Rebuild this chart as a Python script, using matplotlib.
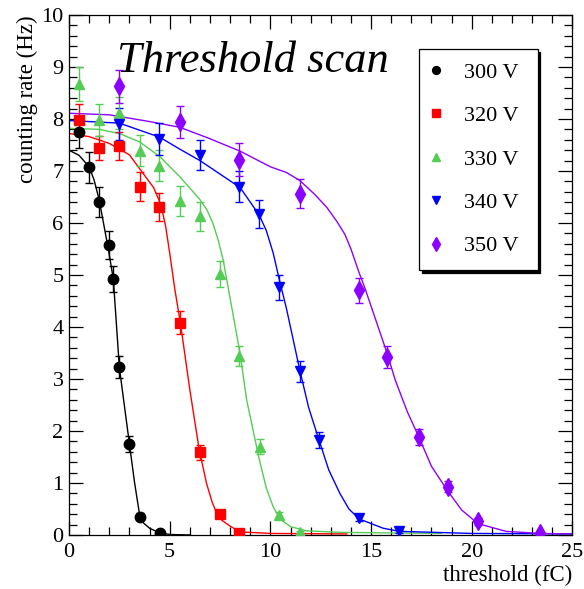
import matplotlib
matplotlib.use("Agg")
import matplotlib.pyplot as plt
from matplotlib.ticker import MultipleLocator

plt.rcParams['font.family'] = ['Liberation Serif', 'DejaVu Serif']

# measured points: threshold (fC), counting rate (Hz), error (Hz)
x300 = [0.5, 1.0, 1.5, 2.0, 2.2, 2.5, 3.0, 3.5, 4.5]
y300 = [7.75, 7.07, 6.41, 5.58, 4.92, 3.23, 1.75, 0.35, 0.03]
e300 = [0.31, 0.30, 0.29, 0.27, 0.25, 0.21, 0.15, 0.07, 0.02]

x320 = [0.5, 1.5, 2.5, 3.5, 4.45, 5.5, 6.5, 7.5, 8.45]
y320 = [7.98, 7.45, 7.48, 6.70, 6.31, 4.08, 1.59, 0.40, 0.04]
e320 = [0.31, 0.23, 0.27, 0.28, 0.27, 0.22, 0.14, 0.07, 0.02]

x330 = [0.5, 1.5, 2.5, 3.5, 4.45, 5.5, 6.5, 7.5, 8.45, 9.5, 10.45, 11.45]
y330 = [8.67, 7.98, 8.12, 7.39, 7.10, 6.42, 6.13, 5.02, 3.44, 1.70, 0.38, 0.05]
e330 = [0.32, 0.31, 0.31, 0.30, 0.30, 0.29, 0.28, 0.25, 0.20, 0.14, 0.07, 0.02]

x340 = [2.5, 4.45, 6.5, 8.45, 9.45, 10.45, 11.45, 12.4, 14.4, 16.4]
y340 = [7.90, 7.62, 7.31, 6.70, 6.18, 4.76, 3.15, 1.83, 0.32, 0.07]
e340 = [0.31, 0.31, 0.29, 0.29, 0.27, 0.24, 0.20, 0.15, 0.06, 0.03]

x350 = [2.5, 5.5, 8.45, 11.45, 14.4, 15.8, 17.4, 18.8, 20.3, 23.4]
y350 = [8.63, 7.94, 7.22, 6.56, 4.71, 3.43, 1.88, 0.93, 0.26, 0.04]
e350 = [0.32, 0.31, 0.31, 0.28, 0.24, 0.21, 0.15, 0.10, 0.06, 0.02]

# fit curves
fx300 = [0, 0.5, 1.0, 1.25, 1.5, 1.95, 2.2, 2.5, 3.0, 3.25, 3.5, 3.7, 4.0, 4.5, 5.0, 6.0]
fy300 = [7.40, 7.30, 7.08, 6.82, 6.44, 5.50, 4.92, 3.22, 1.75, 1.02, 0.40, 0.23, 0.13, 0.04, 0.01, 0.0]

fx320 = [0, 1, 2, 3, 3.8, 4.2, 4.47, 4.65, 4.8, 5.0, 5.26, 5.53, 6.0, 6.47, 6.83,
         7.1, 7.33, 7.6, 8.0, 8.5, 10, 13.8]
fy320 = [7.72, 7.66, 7.53, 7.31, 6.89, 6.68, 6.44, 6.20, 5.93, 5.42, 4.71, 4.08, 2.79, 1.63, 0.99,
         0.64, 0.42, 0.28, 0.17, 0.06, 0.03, 0.02]

fx330 = [0, 1.5, 2.5, 3.5, 4.5, 5.5, 6.5, 6.85, 7.15, 7.4, 7.65, 8.0, 8.49, 8.82, 9.45,
         9.8, 10.14, 10.5, 11.0, 11.8, 13.5, 18.5]
fy330 = [7.82, 7.80, 7.72, 7.56, 7.28, 6.89, 6.45, 6.25, 5.99, 5.68, 5.30, 4.55, 3.50, 2.60, 1.45,
         0.90, 0.54, 0.30, 0.16, 0.08, 0.05, 0.03]

fx340 = [0, 2.5, 4.5, 5.5, 6.5, 8.5, 9.45, 9.8, 10.14, 10.45, 10.8, 11.46, 11.9, 12.41,
         12.9, 13.45, 13.9, 14.4, 15.6, 16.4, 20, 25]
fy340 = [7.97, 7.92, 7.65, 7.42, 7.20, 6.68, 6.15, 5.85, 5.42, 4.90, 4.35, 3.17, 2.45, 1.83,
         1.25, 0.80, 0.50, 0.31, 0.13, 0.07, 0.03, 0.02]

fx350 = [0, 2, 4, 5.5, 7, 8.5, 10, 10.8, 11.45, 12.2, 12.8, 13.3, 13.7, 14.0, 14.4, 14.7,
         15.0, 15.8, 16.2, 16.8, 17.4, 18.0, 18.8, 19.5, 20.3, 21.7, 23.4, 25]
fy350 = [8.11, 8.08, 7.95, 7.84, 7.62, 7.38, 7.08, 6.97, 6.82, 6.55, 6.30, 6.03, 5.78, 5.50,
         5.05, 4.74, 4.40, 3.49, 2.98, 2.37, 1.86, 1.32, 0.85, 0.48, 0.22, 0.07, 0.03, 0.02]

labels = ['300 V', '320 V', '330 V', '340 V', '350 V']
colors = ['black', '#ff0000', '#55cc55', '#0000ff', '#8c00ff']
markers = ['o', 's', '^', 'v', 'd']
msizes = [7.5, 7, 7.5, 7.5, 9]

series = [(x300, y300, e300, fx300, fy300),
          (x320, y320, e320, fx320, fy320),
          (x330, y330, e330, fx330, fy330),
          (x340, y340, e340, fx340, fy340),
          (x350, y350, e350, fx350, fy350)]

fig = plt.figure(figsize=(5.84, 5.89), dpi=100)
ax = fig.add_axes([0.1182, 0.0917, 0.862, 0.8829])

handles = []
for (x, y, e, fx, fy), lab, c, m, ms in zip(series, labels, colors, markers, msizes):
    ax.plot(fx, fy, color=c, lw=1.0, zorder=2)
    cont = ax.errorbar(x, y, yerr=e, fmt=m, color=c, ms=ms, elinewidth=1.0,
                       capsize=3, capthick=1.0, label=lab, zorder=3)
    handles.append(cont[0])

ax.set_xlim(0, 25)
ax.set_ylim(0, 10)
ax.xaxis.set_major_locator(MultipleLocator(5))
ax.xaxis.set_minor_locator(MultipleLocator(1))
ax.yaxis.set_major_locator(MultipleLocator(1))
ax.yaxis.set_minor_locator(MultipleLocator(0.2))
ax.tick_params(which='both', direction='in', top=True, right=True, width=0.9,
               labelsize=16)
ax.tick_params(which='major', length=10)
ax.tick_params(which='minor', length=5.5)
ax.tick_params(axis='x', pad=6)
ax.tick_params(axis='y', pad=4)
for sp in ax.spines.values():
    sp.set_linewidth(0.9)

fig.text(27 / 584, 1 - 15 / 589, 'counting rate (Hz)', rotation=90,
         ha='center', va='top', fontsize=16.5)
fig.text(572 / 584, (589 - 581) / 589, 'threshold (fC)', ha='right',
         va='baseline', fontsize=16.5)

ax.text(2.38, 8.91, 'Threshold scan', style='italic', fontsize=32)

leg = ax.legend(handles, labels, loc='upper left', mode='expand',
                bbox_to_anchor=(0.695, 0.513, 0.236, 0.422), fontsize=16,
                frameon=True, fancybox=False, edgecolor='black', framealpha=1,
                shadow={'color': 'black', 'alpha': 1}, borderpad=0.6,
                labelspacing=1.03, handlelength=0.3, handletextpad=1.14,
                borderaxespad=0, markerscale=0.75)
leg.get_frame().set_linewidth(0.9)

fig.savefig('out.png', dpi=100)
